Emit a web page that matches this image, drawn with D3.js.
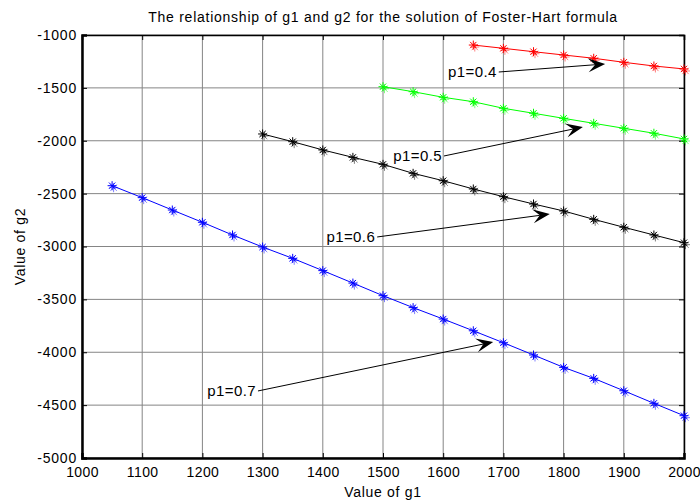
<!DOCTYPE html>
<html>
<head>
<meta charset="utf-8">
<script src="https://cdn.jsdelivr.net/npm/d3@7"></script>
<style>
  body { margin: 0; background: #fff; }
  svg text { font-family: "Liberation Sans", Arial, sans-serif; }
</style>
</head>
<body>
<div id="chart"></div>
<script>
// data
var g1_04 = [1650, 1700, 1750, 1800, 1850, 1900, 1950, 2000];
var g2_04 = [-1095, -1126, -1158, -1189, -1220, -1258, -1293, -1321];
var g1_05 = [1500, 1550, 1600, 1650, 1700, 1750, 1800, 1850, 1900, 1950, 2000];
var g2_05 = [-1489, -1536, -1589, -1631, -1693, -1740, -1788, -1835, -1882, -1929, -1983];
var g1_06 = [1300, 1350, 1400, 1450, 1500, 1550, 1600, 1650, 1700, 1750, 1800, 1850, 1900, 1950, 2000];
var g2_06 = [-1936, -2009, -2087, -2157, -2223, -2308, -2378, -2456, -2529, -2598, -2664, -2743, -2818, -2891, -2964];
var g1_07 = [1050, 1100, 1150, 1200, 1250, 1300, 1350, 1400, 1450, 1500, 1550, 1600, 1650, 1700, 1750, 1800, 1850, 1900, 1950, 2000];
var g2_07 = [-2425, -2538, -2655, -2771, -2891, -3005, -3112, -3228, -3346, -3465, -3578, -3686, -3797, -3910, -4026, -4143, -4247, -4364, -4483, -4600];

var xTicks = [1000, 1100, 1200, 1300, 1400, 1500, 1600, 1700, 1800, 1900, 2000];
var yTicks = [-1000, -1500, -2000, -2500, -3000, -3500, -4000, -4500, -5000];

// annotation: label, text end (data), arrow tip (data)
var notes = [
  {label: "p1=0.4", tx: 1689, ty: -1350, hx: 1869, hy: -1274},
  {label: "p1=0.5", tx: 1598, ty: -2144, hx: 1832, hy: -1870},
  {label: "p1=0.6", tx: 1487, ty: -2910, hx: 1777, hy: -2693},
  {label: "p1=0.7", tx: 1289, ty: -4366, hx: 1683, hy: -3903}
];

var series = [
  {x: g1_04, y: g2_04, color: "#ff0000"},
  {x: g1_05, y: g2_05, color: "#00ff00"},
  {x: g1_06, y: g2_06, color: "#000000"},
  {x: g1_07, y: g2_07, color: "#0000ff"}
];

var W = 700, H = 503;
var margin = {top: 35, right: 16, bottom: 45, left: 82};
var width = W - margin.left - margin.right;
var height = H - margin.top - margin.bottom;

var svg = d3.select("#chart").append("svg")
  .attr("width", W)
  .attr("height", H);

var x = d3.scaleLinear().domain([1000, 2000]).range([0, width]);
var y = d3.scaleLinear().domain([-5000, -1000]).range([height, 0]);

var g = svg.append("g")
  .attr("transform", "translate(" + margin.left + "," + margin.top + ")");

// grid
g.selectAll(".vgrid").data(xTicks).enter().append("line")
  .attr("x1", d => x(d)).attr("x2", d => x(d))
  .attr("y1", 0).attr("y2", height)
  .attr("stroke", "#858585").attr("stroke-width", 1);
g.selectAll(".hgrid").data(yTicks).enter().append("line")
  .attr("y1", d => y(d)).attr("y2", d => y(d))
  .attr("x1", 0).attr("x2", width)
  .attr("stroke", "#858585").attr("stroke-width", 1);

// axes (ticks pointing inward, plain hyphen minus)
var fmt = d => String(d);
var xAxis = g.append("g")
  .attr("transform", "translate(0," + height + ")")
  .call(d3.axisBottom(x).tickValues(xTicks).tickSize(-5).tickPadding(9).tickFormat(fmt));
var yAxis = g.append("g")
  .call(d3.axisLeft(y).tickValues(yTicks).tickSize(-5).tickPadding(5).tickFormat(fmt));
g.append("g")
  .call(d3.axisTop(x).tickValues(xTicks).tickSize(-5).tickFormat(""));
g.append("g")
  .attr("transform", "translate(" + width + ",0)")
  .call(d3.axisRight(y).tickValues(yTicks).tickSize(-5).tickFormat(""));

g.selectAll(".domain").attr("stroke", "#000").attr("stroke-width", 1.5);
g.selectAll(".tick line").attr("stroke", "#000");
[xAxis, yAxis].forEach(function(a) {
  a.selectAll("text")
    .attr("font-size", "14px").attr("fill", "#000")
    .attr("font-family", "Liberation Sans, Arial, sans-serif");
  a.select(".domain").attr("stroke-width", 2.5);
});
xAxis.selectAll("text").attr("letter-spacing", "0.4px");
yAxis.selectAll("text").attr("letter-spacing", "0.8px");

// series lines and asterisk markers
var line = d3.line().x(d => x(d[0])).y(d => y(d[1]));
function asterisk(r) {
  var a = r * 0.7;
  return "M" + (-r) + ",0L" + r + ",0M0," + (-r) + "L0," + r +
    "M" + (-a) + "," + (-a) + "L" + a + "," + a +
    "M" + (-a) + "," + a + "L" + a + "," + (-a);
}
series.forEach(function(s) {
  var pts = s.x.map((v, i) => [v, s.y[i]]);
  g.append("path")
    .datum(pts)
    .attr("d", line)
    .attr("fill", "none")
    .attr("stroke", s.color)
    .attr("stroke-width", 1);
  var m = g.append("g");
  m.selectAll(".ghost").data(pts).enter().append("path")
    .attr("transform", d => "translate(" + (x(d[0]) + 1.5) + "," + (y(d[1]) + 2) + ")")
    .attr("d", asterisk(4.5))
    .attr("stroke", s.color).attr("stroke-opacity", 0.5)
    .attr("fill", "none");
  m.selectAll(".mark").data(pts).enter().append("path")
    .attr("transform", d => "translate(" + x(d[0]) + "," + y(d[1]) + ")")
    .attr("d", asterisk(4.5))
    .attr("stroke", s.color)
    .attr("fill", "none");
});

// annotation arrows
notes.forEach(function(n) {
  var tx = x(n.tx), ty = y(n.ty), hx = x(n.hx), hy = y(n.hy);
  g.append("text")
    .attr("x", tx).attr("y", ty)
    .attr("dy", "0.35em")
    .attr("text-anchor", "end")
    .attr("font-size", "15px")
    .attr("letter-spacing", "0.4px")
    .attr("fill", "#000")
    .text(n.label);
  var sx = tx + 2, sy = ty;
  var ang = Math.atan2(hy - sy, hx - sx);
  var L = 17, Wd = 7, back = 10;
  var c = Math.cos(ang), s = Math.sin(ang);
  var bx = hx - back * c, by = hy - back * s;
  g.append("line")
    .attr("x1", sx).attr("y1", sy).attr("x2", bx).attr("y2", by)
    .attr("stroke", "#000").attr("stroke-width", 1);
  var p1 = [hx - L * c - Wd * s, hy - L * s + Wd * c];
  var p2 = [hx - L * c + Wd * s, hy - L * s - Wd * c];
  g.append("path")
    .attr("d", "M" + hx + "," + hy + "L" + p1 + "L" + bx + "," + by + "L" + p2 + "Z")
    .attr("fill", "#000");
});

// title and axis labels
svg.append("text")
  .attr("x", margin.left + width / 2).attr("y", 22)
  .attr("text-anchor", "middle").attr("font-size", "14px")
  .attr("letter-spacing", "0.75px")
  .text("The relationship of g1 and g2 for the solution of Foster-Hart formula");
svg.append("text")
  .attr("x", margin.left + width / 2).attr("y", 497)
  .attr("text-anchor", "middle").attr("font-size", "14px")
  .attr("letter-spacing", "0.7px")
  .text("Value of g1");
svg.append("text")
  .attr("transform", "translate(25," + (margin.top + height / 2) + ") rotate(-90)")
  .attr("text-anchor", "middle").attr("font-size", "14px")
  .attr("letter-spacing", "0.7px")
  .text("Value of g2");
</script>
</body>
</html>
